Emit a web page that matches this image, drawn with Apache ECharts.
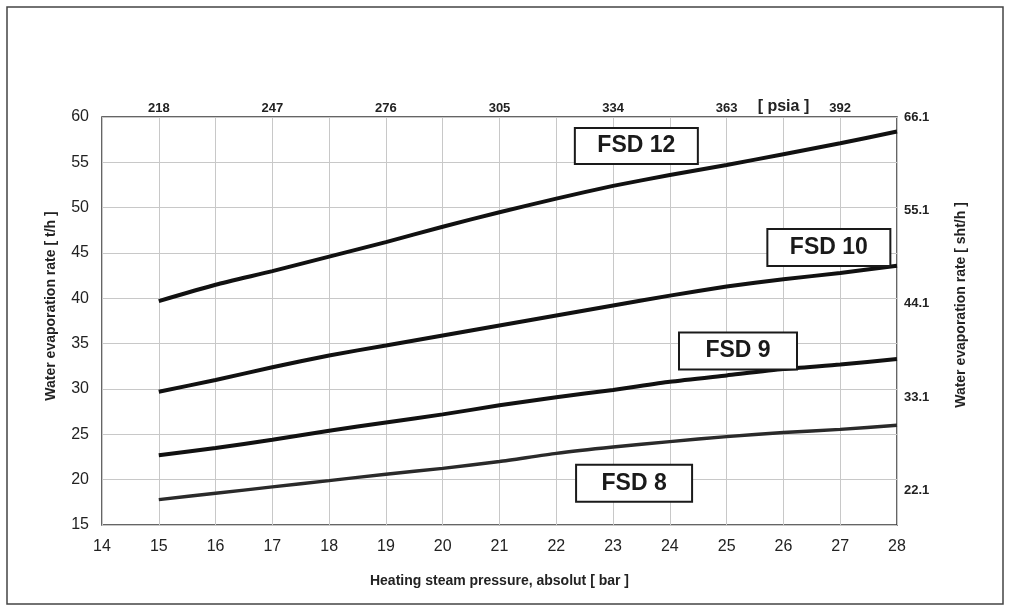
<!DOCTYPE html>
<html>
<head>
<meta charset="utf-8">
<script src="https://cdn.jsdelivr.net/npm/echarts@6/dist/echarts.min.js"></script>
<style>
html,body{margin:0;padding:0;background:#fff;}
#c{width:1009px;height:607px;}
</style>
</head>
<body>
<div id="c"></div>
<script>
// ---- data ----
const pressureBar = [15, 16, 17, 18, 19, 20, 21, 22, 23, 24, 25, 26, 27, 28];
const fsd12 = [39.7, 41.5, 43.0, 44.6, 46.2, 47.9, 49.5, 51.0, 52.4, 53.6, 54.7, 55.9, 57.1, 58.4];
const fsd10 = [29.7, 31.0, 32.4, 33.7, 34.8, 35.9, 37.0, 38.1, 39.2, 40.3, 41.3, 42.1, 42.8, 43.6];
const fsd9  = [22.7, 23.5, 24.4, 25.4, 26.3, 27.2, 28.2, 29.1, 29.9, 30.8, 31.5, 32.2, 32.7, 33.3];
const fsd8  = [17.8, 18.5, 19.2, 19.9, 20.6, 21.25, 22.0, 22.9, 23.6, 24.2, 24.75, 25.2, 25.55, 26.0];
const seriesNames = ['FSD 12', 'FSD 10', 'FSD 9', 'FSD 8'];
const topTickBar = [15, 17, 19, 21, 23, 25, 26, 27];
const topTickLabels = ['218', '247', '276', '305', '334', '363', '[ psia ]', '392'];
const rightTickValues = [22.1, 33.1, 44.1, 55.1, 66.1];
const rightTickLabels = ['22.1', '33.1', '44.1', '55.1', '66.1'];

// label box anchors (data coords) and box sizes
const boxAnchors = [[23.41, 56.8], [26.8, 45.6], [25.2, 34.2], [23.37, 19.6]];
const boxSizes = [[121, 34], [121, 35], [116, 35], [114, 35]];

const chart = echarts.init(document.getElementById('c'), null, {renderer: 'canvas'});
const FONT = 'Liberation Sans, Arial, sans-serif';
const values = [fsd12, fsd10, fsd9, fsd8];

const series = values.map((arr, i) => ({
  type: 'line',
  name: seriesNames[i],
  xAxisIndex: 0,
  yAxisIndex: 0,
  data: pressureBar.map((x, j) => [x, arr[j]]),
  showSymbol: false,
  smooth: 0.2,
  lineStyle: {color: i === 3 ? '#2a2a2a' : '#111', width: i === 3 ? 3.4 : 4},
  z: 3,
  markPoint: {
    symbol: 'circle',
    symbolSize: 0,
    itemStyle: {color: 'transparent'},
    label: {
      show: true, position: 'inside', formatter: seriesNames[i], color: '#1a1a1a',
      fontSize: 23, fontWeight: 'bold', fontFamily: FONT,
      backgroundColor: '#fff', borderColor: '#1a1a1a', borderWidth: 2,
      width: boxSizes[i][0], height: boxSizes[i][1], lineHeight: boxSizes[i][1],
      padding: 0, align: 'center', verticalAlign: 'middle'
    },
    data: [{coord: boxAnchors[i]}],
    z: 5,
    animation: false
  }
}));

chart.setOption({
  animation: false,
  backgroundColor: '#fff',
  grid: {left: 102, right: 112, top: 117, bottom: 82, show: true, borderColor: '#333', borderWidth: 1.5, backgroundColor: 'transparent'},
  xAxis: [
    {
      type: 'value', position: 'bottom', min: 14, max: 28, interval: 1,
      axisLine: {show: false}, axisTick: {show: false},
      axisLabel: {color: '#222', fontSize: 16, fontFamily: FONT, margin: 14},
      splitLine: {show: true, lineStyle: {color: '#c8c8c8', width: 1}},
      name: 'Heating steam pressure, absolut [ bar ]',
      nameLocation: 'middle', nameGap: 49,
      nameTextStyle: {color: '#222', fontSize: 14, fontWeight: 'bold', fontFamily: FONT}
    },
    {
      type: 'value', position: 'top', min: 14, max: 28,
      axisLine: {show: false}, axisTick: {show: false}, splitLine: {show: false},
      axisLabel: {
        customValues: topTickBar,
        color: '#222', fontSize: 13, fontWeight: 'bold', fontFamily: FONT, margin: 2,
        formatter: function (v) {
          const k = topTickBar.indexOf(v);
          if (k < 0) return '';
          const t = topTickLabels[k];
          return t.indexOf('[') >= 0 ? '{u|' + t + '}' : t;
        },
        rich: {u: {fontSize: 16, fontWeight: 'bold', fontFamily: FONT, color: '#222'}}
      }
    }
  ],
  yAxis: [
    {
      type: 'value', min: 15, max: 60, interval: 5,
      axisLine: {show: false}, axisTick: {show: false},
      axisLabel: {color: '#222', fontSize: 16, fontFamily: FONT, margin: 13},
      splitLine: {show: true, lineStyle: {color: '#c8c8c8', width: 1}}
    },
    {
      type: 'value', position: 'right', min: 17.96, max: 66.2,
      axisLine: {show: false}, axisTick: {show: false}, splitLine: {show: false},
      axisLabel: {
        customValues: rightTickValues,
        color: '#222', fontSize: 13, fontWeight: 'bold', fontFamily: FONT, margin: 7,
        formatter: function (v) {
          let best = 0;
          rightTickValues.forEach((t, k) => { if (Math.abs(t - v) < Math.abs(rightTickValues[best] - v)) best = k; });
          return rightTickLabels[best];
        }
      }
    }
  ],
  graphic: [
    {type: 'rect', shape: {x: 7, y: 7, width: 996, height: 597}, style: {fill: 'none', stroke: '#444', lineWidth: 1.5}, silent: true, z: 0},
    {type: 'text', x: 51, y: 306, rotation: Math.PI / 2,
     style: {text: 'Water evaporation rate [ t/h ]', font: 'bold 14px ' + FONT, fill: '#222', textAlign: 'center', textVerticalAlign: 'middle'}},
    {type: 'text', x: 961, y: 305, rotation: Math.PI / 2,
     style: {text: 'Water evaporation rate [ sht/h ]', font: 'bold 14px ' + FONT, fill: '#222', textAlign: 'center', textVerticalAlign: 'middle'}}
  ],
  series: series
});
</script>
</body>
</html>
